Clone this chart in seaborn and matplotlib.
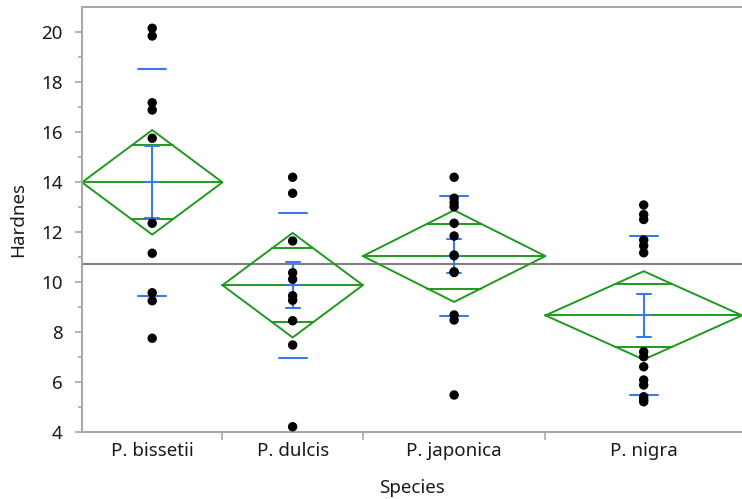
import numpy as np
import pandas as pd
import matplotlib
matplotlib.use("Agg")
import matplotlib.pyplot as plt
import seaborn as sns

# ---- data ----
species = ["P. bissetii", "P. dulcis", "P. japonica", "P. nigra"]
bissetii = [20.15, 19.84, 17.17, 16.88, 15.75, 12.35, 11.15, 9.57, 9.25, 7.75]
dulcis = [14.19, 13.55, 11.64, 10.37, 10.11, 9.45, 9.27, 8.45, 7.48, 4.21]
japonica = [14.19, 13.35, 13.17, 13.01, 12.35, 11.84, 11.08, 11.05, 10.41, 10.38,
            8.68, 8.48, 5.48]
nigra = [13.08, 12.70, 12.50, 11.68, 11.45, 11.17, 7.21, 7.01, 6.61, 6.08, 5.88,
         5.41, 5.30, 5.21]
y_ticks = [4, 6, 8, 10, 12, 14, 16, 18, 20]

groups = [bissetii, dulcis, japonica, nigra]

sns.set_style("white")
plt.rcParams["font.family"] = ["Noto Sans", "DejaVu Sans"]

# group widths proportional to sample size (JMP style)
ns = np.array([len(g) for g in groups])
edges = np.concatenate([[0], np.cumsum(ns)])
centers = (edges[:-1] + edges[1:]) / 2.0

df = pd.DataFrame({
    "Species": np.repeat(species, ns),
    "x": np.repeat(centers, ns),
    "Hardnes": np.concatenate(groups),
})

# statistics
means = np.array([np.mean(g) for g in groups])
sds = np.array([np.std(g, ddof=1) for g in groups])
ses = sds / np.sqrt(ns)
N = ns.sum()
pooled = np.sqrt(sum(((np.array(g) - np.mean(g)) ** 2).sum() for g in groups) / (N - len(groups)))
try:
    from scipy import stats
    tval = stats.t.ppf(0.975, N - len(groups))
except Exception:
    tval = 2.0167
ci = tval * pooled / np.sqrt(ns)
grand = np.mean(np.concatenate(groups))

fig = plt.figure(figsize=(7.42, 4.99), dpi=100)
ax = fig.add_axes([82 / 742, 1 - 432 / 499, 660 / 742, 425 / 499])

green = "#1e9a1e"
blue = "#3a78ec"
gray = "#a8a8a8"
fs = 13.5

# grand mean line
ax.axhline(grand, color="#808080", lw=1.5, zorder=1)

# diamonds
for i in range(len(groups)):
    x0, x1, xc = edges[i], edges[i + 1], centers[i]
    m, h = means[i], ci[i]
    ax.plot([x0, xc, x1, xc, x0], [m, m + h, m, m - h, m], color=green, lw=1.4, zorder=2)
    ax.plot([x0, x1], [m, m], color=green, lw=1.4, zorder=2)
    ov = h / np.sqrt(2)
    for s in (1, -1):
        yy = m + s * ov
        frac = 1 - ov / h
        half = (x1 - x0) / 2 * frac
        ax.plot([xc - half, xc + half], [yy, yy], color=green, lw=1.4, zorder=2)

# std dev lines and error bars
px = (edges[-1] - edges[0]) / 660.0  # data units per pixel
for i in range(len(groups)):
    xc, m = centers[i], means[i]
    for yy in (m + sds[i], m - sds[i]):
        ax.plot([xc - 14 * px, xc + 14 * px], [yy, yy], color=blue, lw=1.5, zorder=3)
    ax.plot([xc, xc], [m - ses[i], m + ses[i]], color=blue, lw=1.5, zorder=3)
    for yy in (m - ses[i], m, m + ses[i]):
        ax.plot([xc - 7 * px, xc + 7 * px], [yy, yy], color=blue, lw=1.5, zorder=3)

sns.scatterplot(data=df, x="x", y="Hardnes", ax=ax, color="black", s=46,
                edgecolor="none", zorder=4, legend=False)

ax.set_xlim(edges[0], edges[-1])
ax.set_ylim(4, 21)
ax.set_yticks(y_ticks)
ax.set_yticks(np.arange(5, 21, 2), minor=True)
ax.set_xticks(centers)
ax.set_xticklabels(species)
ax.set_xticks(edges[1:-1], minor=True)

ax.tick_params(axis="y", which="major", length=5, width=1.2, color=gray,
               labelsize=fs, labelcolor="#1a1a1a", pad=9, left=True)
ax.tick_params(axis="y", which="minor", length=3, width=1.2, color=gray, left=True)
ax.tick_params(axis="x", which="major", length=0, labelsize=fs,
               labelcolor="#1a1a1a", pad=7)
ax.tick_params(axis="x", which="minor", length=6, width=1.2, color=gray, bottom=True)

for side in ("left", "bottom", "top"):
    ax.spines[side].set_color(gray)
    ax.spines[side].set_linewidth(1.5)
ax.spines["right"].set_visible(False)

ax.set_xlabel("Species", fontsize=fs, color="#1a1a1a", labelpad=14)
ax.set_ylabel("Hardnes", fontsize=fs, color="#1a1a1a", labelpad=10)

fig.savefig("out.png", dpi=100)
